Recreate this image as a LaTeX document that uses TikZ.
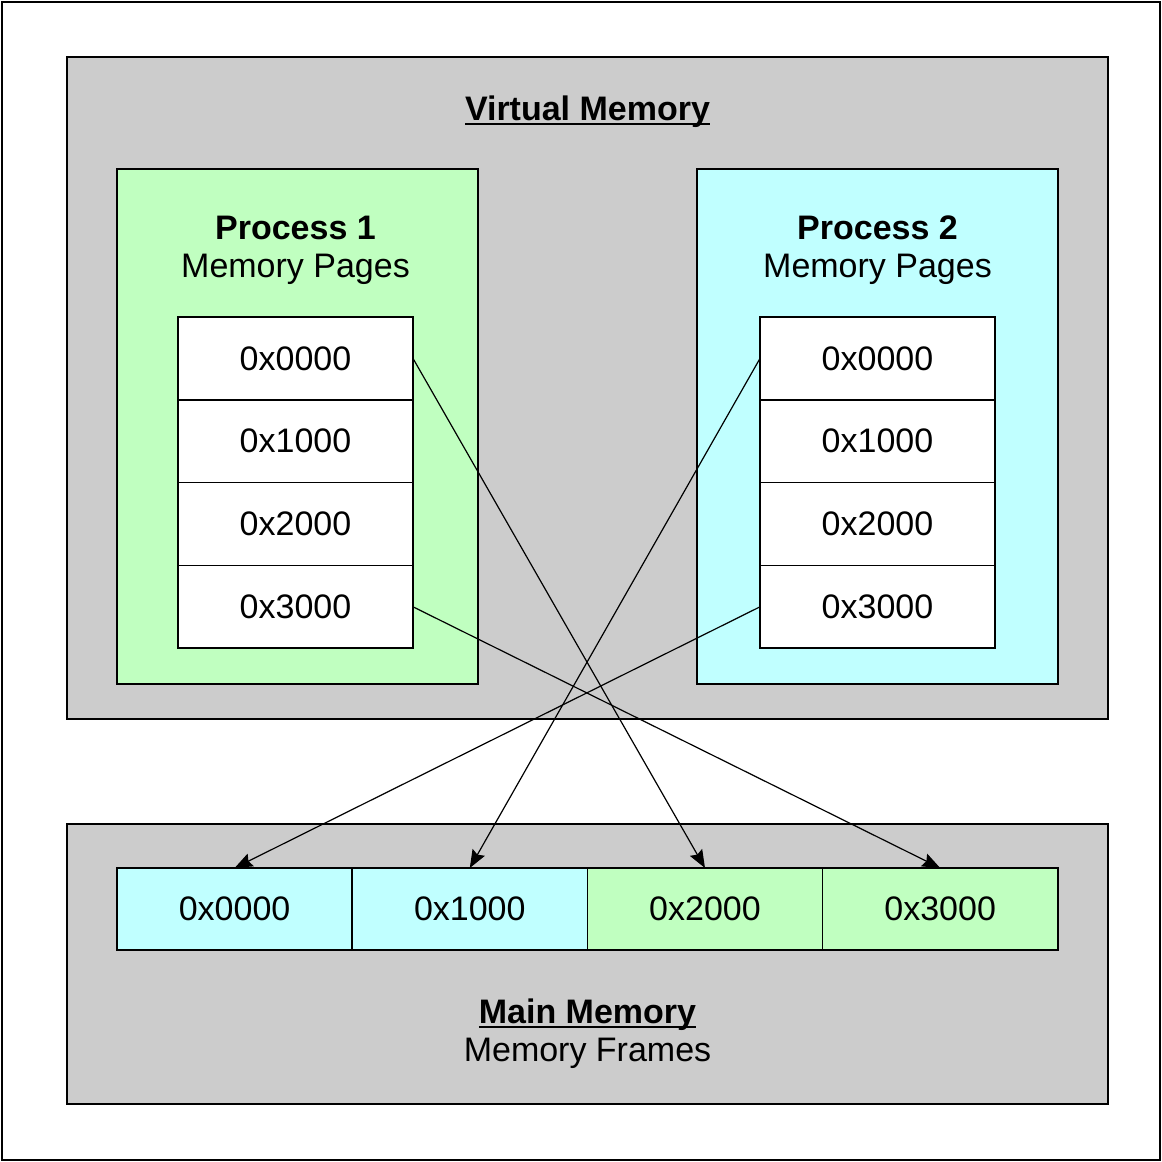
\documentclass[tikz,border=0pt]{standalone}
\usepackage{fontspec}
\setmainfont{Liberation Sans}
\usetikzlibrary{arrows.meta, positioning}
\definecolor{memgray}{RGB}{204,204,204}
\definecolor{procgreen}{RGB}{192,255,192}
\definecolor{proccyan}{RGB}{192,255,255}
\newcommand{\undertext}[1]{\setbox0\hbox{#1}\mbox{\rlap{\rule[-2.2pt]{\wd0}{0.9pt}}\box0}}

\begin{document}
\begin{tikzpicture}[
    x=0.5pt, y=-0.5pt,
    box/.style={rectangle, draw=black, line width=1pt, inner sep=0pt, outer sep=0pt},
    region/.style={box, fill=memgray, minimum width=520.5pt},
    process/.style={box, minimum width=180.5pt, minimum height=257.5pt},
    page/.style={box, fill=white, line width=0.8pt, minimum width=117.5pt, minimum height=41.4pt, font=\fontsize{17}{19}\selectfont},
    memframe/.style={page, minimum width=117.6pt, minimum height=41pt},
    title/.style={align=center, font=\fontsize{17}{19}\selectfont},
    arrow/.style={-{Stealth[length=9pt, width=7pt, inset=1.3pt]}, line width=0.6pt}
]
\useasboundingbox (0,0) rectangle (1162,1162);

% Outer frame
\node[box, minimum width=579pt, minimum height=579pt] (canvas) at (581,581) {};

% Virtual memory
\node[region, minimum height=331pt] (virtual) at (587.5,388) {};
\node[title] (virtualtitle) at (587.5,112) {\undertext{\textbf{Virtual Memory}}};

% Process 1
\node[process, fill=procgreen] (proc1) at (297.5,426.5) {};
\node[title] (proc1title) at (295.5,250) {\textbf{Process 1}\\Memory Pages};
\node[page] (p1a) at (295.5,358.4) {0x0000};
\node[page, below=0pt of p1a] (p1b) {0x1000};
\node[page, below=0pt of p1b] (p1c) {0x2000};
\node[page, below=0pt of p1c] (p1d) {0x3000};

% Process 2
\node[process, fill=proccyan] (proc2) at (877.5,426.5) {};
\node[title] (proc2title) at (877.5,250) {\textbf{Process 2}\\Memory Pages};
\node[page] (p2a) at (877.5,358.4) {0x0000};
\node[page, below=0pt of p2a] (p2b) {0x1000};
\node[page, below=0pt of p2b] (p2c) {0x2000};
\node[page, below=0pt of p2c] (p2d) {0x3000};

% Main memory
\node[region, minimum height=140pt] (main) at (587.5,964) {};
\node[title] (maintitle) at (587.5,1034) {\undertext{\textbf{Main Memory}}\\Memory Frames};
\node[memframe, fill=proccyan] (f0) at (234.6,909) {0x0000};
\node[memframe, fill=proccyan, right=0pt of f0] (f1) {0x1000};
\node[memframe, fill=procgreen, right=0pt of f1] (f2) {0x2000};
\node[memframe, fill=procgreen, right=0pt of f2] (f3) {0x3000};

% Page mapping
\draw[arrow] (p1a.east) -- (f2.north);
\draw[arrow] (p1d.east) -- (f3.north);
\draw[arrow] (p2a.west) -- (f1.north);
\draw[arrow] (p2d.west) -- (f0.north);

\end{tikzpicture}
\end{document}
